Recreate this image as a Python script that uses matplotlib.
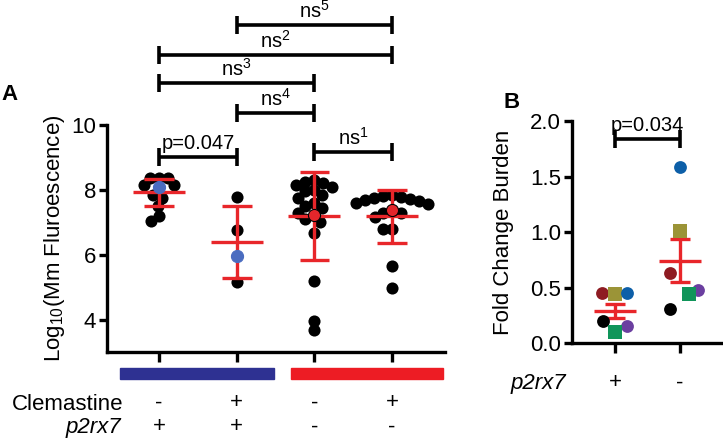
import matplotlib
matplotlib.use("Agg")
import matplotlib.pyplot as plt
import matplotlib.transforms as mtransforms
from matplotlib.patches import Rectangle

plt.rcParams['font.family'] = ['Liberation Sans', 'DejaVu Sans']
plt.rcParams['mathtext.fontset'] = 'custom'
plt.rcParams['mathtext.rm'] = 'Liberation Sans'
plt.rcParams['mathtext.it'] = 'Liberation Sans:italic'

# ---------------- data: panel A ----------------
A_groups = [0, 1, 2, 3]
A_black = [
    [8.38, 8.38, 8.38, 8.15, 8.15, 7.85, 7.75, 7.5, 7.2, 7.03],
    [7.77, 6.77, 5.15],
    [8.3, 8.25, 8.2, 8.15, 8.1, 8.0, 7.95, 7.85, 7.75, 7.6, 7.5, 7.45, 7.3,
     7.1, 7.0, 6.67, 5.18, 3.97, 3.67],
    [7.85, 7.8, 7.78, 7.75, 7.72, 7.7, 7.65, 7.6, 7.55, 7.3, 7.28, 7.15, 6.8,
     6.78, 5.64, 4.98],
]
A_highlight = [8.08, 5.97, 7.22, 7.38]
A_highlight_color = ['#4a6cc0', '#4a6cc0', '#e3262b', '#e3262b']
A_mean = [7.93, 6.39, 7.20, 7.18]
A_sd = [0.42, 1.12, 1.36, 0.82]
A_clem = ['-', '+', '-', '+']
A_p2rx7 = ['+', '+', '-', '-']
A_yticks = [4, 6, 8, 10]
# brackets: (start group, end group, height, label)
A_brackets = [
    (1, 3, 13.08, 'ns$^{5}$'),
    (0, 3, 12.15, 'ns$^{2}$'),
    (0, 2, 11.29, 'ns$^{3}$'),
    (1, 2, 10.37, 'ns$^{4}$'),
    (0, 1, 9.02, 'p=0.047'),
    (2, 3, 9.17, 'ns$^{1}$'),
]

# ---------------- data: panel B ----------------
B_groups = [0, 1]
B_labels = ['+', '-']
B_colors = ['#8e1b22', '#9b9437', '#0d5fa8', '#000000', '#6b3fa0', '#10955a']
B_markers = ['o', 's', 'o', 'o', 'o', 's']
B_plus = [0.45, 0.44, 0.45, 0.20, 0.16, 0.10]
B_minus = [0.63, 1.01, 1.585, 0.31, 0.48, 0.445]
B_mean = [0.29, 0.745]
B_sem = [0.06, 0.195]
B_yticks = [0.0, 0.5, 1.0, 1.5, 2.0]
B_bracket = (0, 1, 1.84, 'p=0.034')

# layout offsets for panel B points (x jitter, in group units)
B_off_plus = [-0.20, 0.0, 0.18, -0.19, 0.18, 0.0]
B_off_minus = [-0.15, 0.0, 0.0, -0.15, 0.27, 0.14]

W, H = 723, 441
fig = plt.figure(figsize=(W / 100, H / 100), dpi=100)

RED = '#e8262a'
LW = 2.4

# ---------------- panel A ----------------
axA = fig.add_axes([107 / W, (H - 352) / H, (445 - 107) / W, (352 - 125) / H])
axA.set_xlim(-0.67, 3.68)
axA.set_ylim(3.0, 10.0)
sx = (445 - 107) / (3.68 + 0.67)
sy = (352 - 125) / 7.0


def swarm(vals, fixed, d=9.0):
    placed = [(0.0, fixed)]
    offs = []
    for v in vals:
        best = None
        for k in range(0, 80):
            for sgn in ([0] if k == 0 else [-1, 1]):
                o = sgn * k * 1.0
                if all((o - po) ** 2 + ((v - pv) * sy) ** 2 >= d * d for po, pv in placed):
                    best = o
                    break
            if best is not None:
                break
        placed.append((best, v))
        offs.append(best / sx)
    return offs


for g, vals, hv, hc, m, s in zip(A_groups, A_black, A_highlight, A_highlight_color, A_mean, A_sd):
    offs = swarm(vals, hv)
    axA.scatter([g + o for o in offs], vals, s=76, color='black', zorder=3, linewidths=0)
    # error bars
    axA.plot([g - 0.335, g + 0.335], [m, m], color=RED, lw=LW, zorder=4, solid_capstyle='butt')
    axA.plot([g, g], [m - s, m + s], color=RED, lw=LW, zorder=4, solid_capstyle='butt')
    for yy in (m - s, m + s):
        axA.plot([g - 0.19, g + 0.19], [yy, yy], color=RED, lw=LW, zorder=4, solid_capstyle='butt')
    ec = 'black' if hc == '#e3262b' else hc
    axA.scatter([g], [hv], s=76, color=hc, edgecolors=ec, linewidths=0.8, zorder=5)

for sp in ('top', 'right'):
    axA.spines[sp].set_visible(False)
for sp in ('left', 'bottom'):
    axA.spines[sp].set_linewidth(LW)
axA.set_xticks(A_groups)
axA.set_xticklabels([])
axA.set_yticks(A_yticks)
axA.set_yticklabels([str(t) for t in A_yticks], fontsize=16)
axA.tick_params(axis='x', length=7, width=LW)
axA.tick_params(axis='y', length=6, width=LW, pad=2)
axA.set_ylabel('Log$_{10}$(Mm Fluroescence)', fontsize=16)
axA.yaxis.set_label_coords(-(107 - 67) / (445 - 107), 0.5)

tick_h = 0.28
for a, b, yv, lab in A_brackets:
    axA.plot([a, b], [yv, yv], color='black', lw=2.6, clip_on=False, solid_capstyle='butt')
    for xx in (a, b):
        axA.plot([xx, xx], [yv - tick_h, yv + tick_h], color='black', lw=2.6, clip_on=False,
                 solid_capstyle='butt')
    axA.annotate(lab, xy=((a + b) / 2, yv), xytext=(0, 2.5), textcoords='offset points',
                 ha='center', va='bottom', fontsize=14.5, annotation_clip=False)

# coloured genotype bars
axA.add_patch(Rectangle((-0.50, 2.18), 1.98, 0.34, color='#2e3192', clip_on=False))
axA.add_patch(Rectangle((1.70, 2.18), 1.96, 0.34, color='#ed1c24', clip_on=False))

trA = mtransforms.blended_transform_factory(axA.transData, fig.transFigure)
fig.text(123 / W, 1 - 404 / H, 'Clemastine', ha='right', va='center', fontsize=16)
fig.text(121 / W, 1 - 427 / H, 'p2rx7', ha='right', va='center', fontsize=16, style='italic')
for g, c, p in zip(A_groups, A_clem, A_p2rx7):
    axA.text(g, 1 - 403 / H, c, transform=trA, ha='center', va='center', fontsize=16)
    axA.text(g, 1 - 427 / H, p, transform=trA, ha='center', va='center', fontsize=16)

fig.text(9 / W, 1 - 95 / H, 'A', ha='center', va='center', fontsize=16, fontweight='bold')

# ---------------- panel B ----------------
axB = fig.add_axes([572 / W, (H - 343.3) / H, (723 - 572) / W, 222 / H])
axB.set_xlim(-0.66, 1.66)
axB.set_ylim(0.0, 2.0)

for g, vals, offs, m, s in zip(B_groups, [B_plus, B_minus], [B_off_plus, B_off_minus], B_mean, B_sem):
    axB.plot([g - 0.32, g + 0.32], [m, m], color=RED, lw=LW, zorder=3, solid_capstyle='butt')
    axB.plot([g, g], [m - s, m + s], color=RED, lw=LW, zorder=3, solid_capstyle='butt')
    for yy in (m - s, m + s):
        axB.plot([g - 0.16, g + 0.16], [yy, yy], color=RED, lw=LW, zorder=3, solid_capstyle='butt')
    for v, o, c, mk in zip(vals, offs, B_colors, B_markers):
        axB.scatter([g + o], [v], s=85 if mk == 'o' else 95, marker=mk, color=c,
                    linewidths=0, zorder=4)

for sp in ('top', 'right'):
    axB.spines[sp].set_visible(False)
for sp in ('left', 'bottom'):
    axB.spines[sp].set_linewidth(LW)
axB.set_xticks(B_groups)
axB.set_xticklabels([])
axB.set_yticks(B_yticks)
axB.set_yticklabels(['%.1f' % t for t in B_yticks], fontsize=16)
axB.tick_params(axis='x', length=7, width=LW)
axB.tick_params(axis='y', length=6, width=LW, pad=2)
axB.set_ylabel('Fold Change Burden', fontsize=16)
axB.yaxis.set_label_coords(-(572 - 514) / (723 - 572), 0.5)

a, b, yv, lab = B_bracket
tick_hB = 9 / 111.0
axB.plot([a, b], [yv, yv], color='black', lw=2.6, clip_on=False, solid_capstyle='butt')
for xx in (a, b):
    axB.plot([xx, xx], [yv - tick_hB, yv + tick_hB], color='black', lw=2.6, clip_on=False,
             solid_capstyle='butt')
axB.annotate(lab, xy=((a + b) / 2, yv), xytext=(0, 3), textcoords='offset points',
             ha='center', va='bottom', fontsize=14.5, annotation_clip=False)

trB = mtransforms.blended_transform_factory(axB.transData, fig.transFigure)
fig.text(566 / W, 1 - 383 / H, 'p2rx7', ha='right', va='center', fontsize=16, style='italic')
for g, lab in zip(B_groups, B_labels):
    axB.text(g, 1 - 383 / H, lab, transform=trB, ha='center', va='center', fontsize=16)

fig.text(512 / W, 1 - 103 / H, 'B', ha='center', va='center', fontsize=16, fontweight='bold')

fig.savefig('out.png', dpi=100)
